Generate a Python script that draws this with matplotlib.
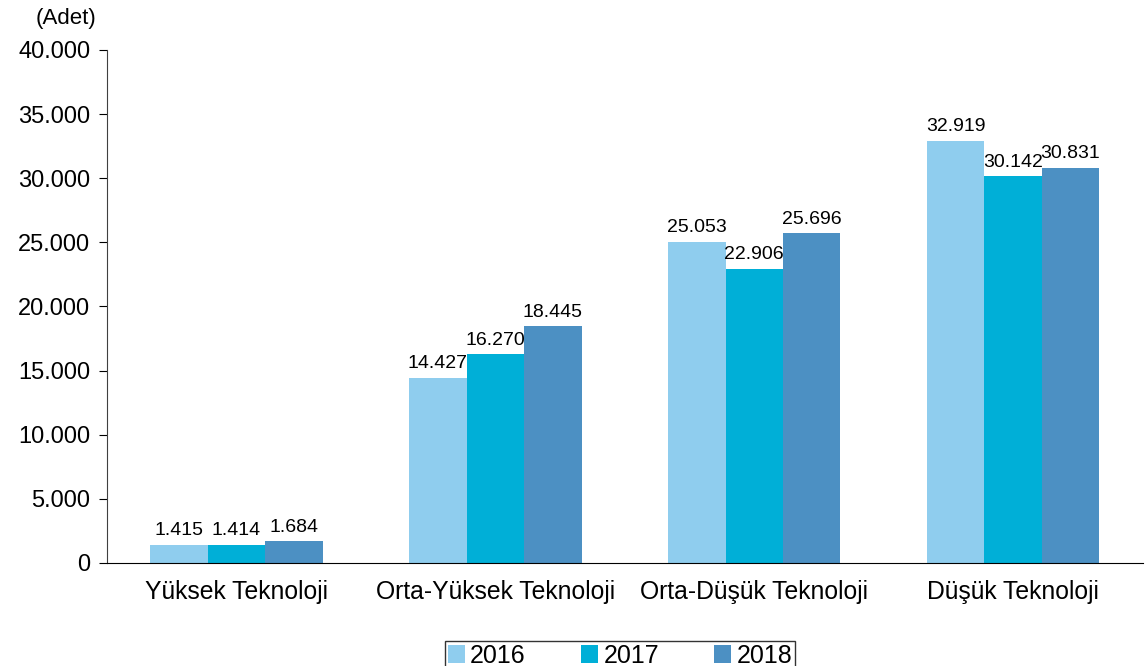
import numpy as np
import matplotlib
matplotlib.use("Agg")
import matplotlib.pyplot as plt
from matplotlib.ticker import FuncFormatter

plt.rcParams["font.family"] = ["Liberation Sans", "DejaVu Sans"]

categories = ["Yüksek Teknoloji", "Orta-Yüksek Teknoloji", "Orta-Düşük Teknoloji", "Düşük Teknoloji"]
years = ["2016", "2017", "2018"]
v2016 = [1415, 14427, 25053, 32919]
v2017 = [1414, 16270, 22906, 30142]
v2018 = [1684, 18445, 25696, 30831]
colors = ["#8fcdee", "#00afd7", "#4c90c3"]

fig = plt.figure(figsize=(11.46, 6.66), dpi=100)
ax = fig.add_axes([0.0934, 0.1547, 0.9036, 0.7703])

x = np.arange(len(categories))
w = 0.222
for i, (vals, c) in enumerate(zip([v2016, v2017, v2018], colors)):
    bars = ax.bar(x + (i - 1) * w, vals, w, color=c, label=years[i])
    for b, v in zip(bars, vals):
        ax.text(b.get_x() + b.get_width() / 2, v + 450, f"{v:,}".replace(",", "."),
                ha="center", va="bottom", fontsize=14)

ax.set_xlim(-0.5, len(categories) - 0.5)
ax.set_ylim(0, 40000)
ax.set_yticks(np.arange(0, 40001, 5000))
ax.yaxis.set_major_formatter(FuncFormatter(lambda v, p: f"{int(v):,}".replace(",", ".")))
ax.set_xticks(x)
ax.set_xticklabels(categories)
ax.tick_params(axis="y", labelsize=17, length=6, direction="out", pad=6)
ax.tick_params(axis="x", labelsize=17.8, length=0, pad=12)
for s in ["top", "right"]:
    ax.spines[s].set_visible(False)
ax.spines["left"].set_color("#404040")
ax.spines["bottom"].set_color("#000000")

fig.text(0.058, 0.972, "(Adet)", fontsize=16, ha="center", va="center")

leg = fig.legend(loc="upper center", bbox_to_anchor=(0.541, 0.037), ncol=3, fontsize=18,
                 frameon=True, fancybox=False, edgecolor="black", handlelength=0.7,
                 handleheight=0.7, handletextpad=0.2, columnspacing=2.2, borderpad=0.1,
                 borderaxespad=0.0)
leg.get_frame().set_linewidth(1.0)

fig.savefig("out.png", dpi=100)
